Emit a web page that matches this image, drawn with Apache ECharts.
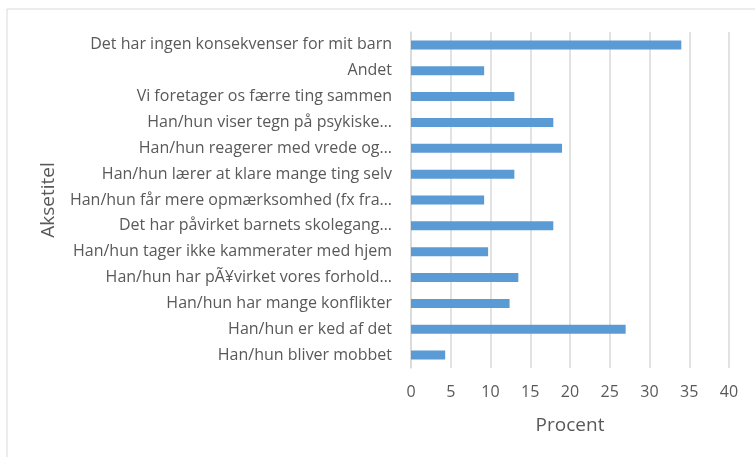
<!DOCTYPE html>
<html>
<head>
<meta charset="utf-8">
<script src="https://cdn.jsdelivr.net/npm/echarts@6/dist/echarts.min.js"></script>
<style>
  html, body { margin: 0; padding: 0; background: #fff; }
  #chart { width: 755px; height: 457px; }
</style>
</head>
<body>
<div id="chart"></div>
<script>
// kategorier, top til bund
var categories = [
    'Det har ingen konsekvenser for mit barn',
    'Andet',
    'Vi foretager os færre ting sammen',
    'Han/hun viser tegn på psykiske…',
    'Han/hun reagerer med vrede og…',
    'Han/hun lærer at klare mange ting selv',
    'Han/hun får mere opmærksomhed (fx fra…',
    'Det har påvirket barnets skolegang…',
    'Han/hun tager ikke kammerater med hjem',
    'Han/hun har pÃ¥virket vores forhold…',
    'Han/hun har mange konflikter',
    'Han/hun er ked af det',
    'Han/hun bliver mobbet'
];
var procent = [34.0, 9.2, 13.0, 17.9, 19.0, 13.0, 9.2, 17.9, 9.7, 13.5, 12.4, 27.0, 4.3];
var xTicks = [0, 5, 10, 15, 20, 25, 30, 35, 40];

var textColor = '#595959';
var font = 'Open Sans';

var chart = echarts.init(document.getElementById('chart'));
chart.setOption({
    animation: false,
    textStyle: { fontFamily: font },
    graphic: [{
        type: 'rect',
        shape: { x: 7, y: 9, width: 800, height: 500 },
        style: { fill: 'none', stroke: '#d9d9d9', lineWidth: 1 }
    }],
    grid: { left: 411, right: 26, top: 32, bottom: 89, containLabel: false },
    xAxis: {
        type: 'value',
        min: xTicks[0],
        max: xTicks[xTicks.length - 1],
        interval: 5,
        name: 'Procent',
        nameLocation: 'middle',
        nameGap: 48,
        nameTextStyle: { color: textColor, fontSize: 19, fontFamily: font },
        axisLine: { show: false },
        axisTick: { show: false },
        axisLabel: { color: textColor, fontSize: 16, margin: 16, fontFamily: font },
        splitLine: { lineStyle: { color: '#d9d9d9', width: 1.5 } }
    },
    yAxis: {
        type: 'category',
        inverse: true,
        data: categories,
        name: 'Aksetitel',
        nameLocation: 'middle',
        nameRotate: 90,
        nameGap: 353,
        nameTextStyle: { color: textColor, fontSize: 19, fontFamily: font },
        axisLine: { show: true, lineStyle: { color: '#d9d9d9', width: 1.5 } },
        axisTick: { show: false },
        axisLabel: { color: textColor, fontSize: 16, margin: 19, fontFamily: font }
    },
    series: [{
        type: 'bar',
        data: procent,
        barWidth: 9,
        itemStyle: { color: '#5b9bd5' }
    }]
});
</script>
</body>
</html>
